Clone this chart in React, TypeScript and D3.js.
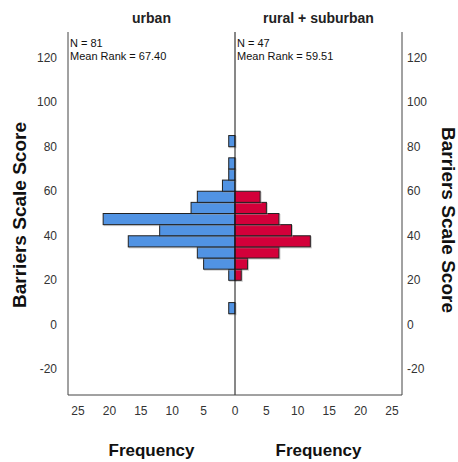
import React, { useEffect, useRef } from "react";
import * as d3 from "d3";

// bin lower edges (Barriers Scale Score), bins of width 5
const binStarts = [5, 10, 15, 20, 25, 30, 35, 40, 45, 50, 55, 60, 65, 70, 75, 80];
const urbanCounts = [1, 0, 0, 1, 5, 6, 17, 12, 21, 7, 6, 2, 1, 1, 0, 1];
const ruralCounts = [0, 0, 0, 1, 2, 7, 12, 9, 7, 5, 4, 0, 0, 0, 0, 0];
const yTicks = [-20, 0, 20, 40, 60, 80, 100, 120];
const xTicks = [0, 5, 10, 15, 20, 25];
const groups = [
  { name: "urban", n: 81, meanRank: "67.40" },
  { name: "rural + suburban", n: 47, meanRank: "59.51" },
];

export default function App() {
  const ref = useRef<SVGSVGElement>(null);

  useEffect(() => {
    const svg = d3.select(ref.current);
    svg.selectAll("*").remove();

    const left = 68;
    const mid = 235;
    const right = 402;
    const top = 32;
    const bottom = 395;
    const font = "'Liberation Sans', Arial, sans-serif";

    const y = d3.scaleLinear().domain([-31.5, 131.5]).range([bottom, top]);
    const xl = d3.scaleLinear().domain([0, 26.6]).range([mid, left]);
    const xr = d3.scaleLinear().domain([0, 26.6]).range([mid, right]);

    const g = svg.append("g");

    // bars
    const drawBars = (counts: number[], scale: d3.ScaleLinear<number, number>, color: string) => {
      binStarts.forEach((b, i) => {
        const c = counts[i];
        if (!c) return;
        const x0 = Math.min(scale(0), scale(c));
        const w = Math.abs(scale(c) - scale(0));
        const y0 = y(b + 5);
        const h = y(b) - y(b + 5);
        // soft shadow
        g.append("rect")
          .attr("x", x0 + 1)
          .attr("y", y0 + 1)
          .attr("width", w)
          .attr("height", h)
          .attr("fill", "none")
          .attr("stroke", "#999")
          .attr("stroke-opacity", 0.5)
          .attr("stroke-width", 1);
        g.append("rect")
          .attr("x", x0)
          .attr("y", y0)
          .attr("width", w)
          .attr("height", h)
          .attr("fill", color)
          .attr("stroke", "#222")
          .attr("stroke-width", 1);
      });
    };
    drawBars(urbanCounts, xl, "#5193e3");
    drawBars(ruralCounts, xr, "#d3003a");

    // frame
    const line = (x1: number, y1: number, x2: number, y2: number, c = "#444") =>
      g.append("line")
        .attr("x1", x1).attr("y1", y1).attr("x2", x2).attr("y2", y2)
        .attr("stroke", c).attr("stroke-width", 1);
    line(left, top, left, bottom);
    line(right, top, right, bottom);
    line(mid, top, mid, bottom, "#111");
    line(left, bottom, right, bottom);

    // y tick labels
    yTicks.forEach(t => {
      g.append("text").attr("x", 57).attr("y", y(t) + 4)
        .attr("text-anchor", "end").attr("font-size", 12).attr("font-family", font)
        .attr("fill", "#333").text(t);
      g.append("text").attr("x", 407).attr("y", y(t) + 4)
        .attr("text-anchor", "start").attr("font-size", 12).attr("font-family", font)
        .attr("fill", "#333").text(t);
    });

    // x tick labels
    xTicks.forEach(t => {
      g.append("text").attr("x", xl(t)).attr("y", 415)
        .attr("text-anchor", "middle").attr("font-size", 12).attr("font-family", font)
        .attr("fill", "#333").text(t);
      if (t > 0)
        g.append("text").attr("x", xr(t)).attr("y", 415)
          .attr("text-anchor", "middle").attr("font-size", 12).attr("font-family", font)
          .attr("fill", "#333").text(t);
    });

    // panel titles and annotations
    const centers = [(left + mid) / 2, (mid + right) / 2];
    const starts = [left + 2, mid + 2];
    groups.forEach((gr, i) => {
      g.append("text").attr("x", centers[i]).attr("y", 23)
        .attr("text-anchor", "middle").attr("font-size", 14).attr("font-weight", "bold")
        .attr("font-family", font).attr("fill", "#222").text(gr.name);
      g.append("text").attr("x", starts[i]).attr("y", 47)
        .attr("font-size", 11).attr("font-family", font).attr("fill", "#111")
        .text(`N = ${gr.n}`);
      g.append("text").attr("x", starts[i]).attr("y", 60)
        .attr("font-size", 11).attr("font-family", font).attr("fill", "#111")
        .text(`Mean Rank = ${gr.meanRank}`);
      g.append("text").attr("x", centers[i]).attr("y", 456)
        .attr("text-anchor", "middle").attr("font-size", 17).attr("font-weight", "bold")
        .attr("font-family", font).attr("fill", "#111").text("Frequency");
    });

    // axis titles
    g.append("text")
      .attr("transform", `translate(26,215) rotate(-90)`)
      .attr("text-anchor", "middle").attr("font-size", 19).attr("font-weight", "bold")
      .attr("font-family", font).attr("fill", "#111").text("Barriers Scale Score");
    g.append("text")
      .attr("transform", `translate(442,220) rotate(90)`)
      .attr("text-anchor", "middle").attr("font-size", 19).attr("font-weight", "bold")
      .attr("font-family", font).attr("fill", "#111").text("Barriers Scale Score");
  }, []);

  return (
    <svg
      ref={ref}
      width={458}
      height={462}
      style={{ position: "absolute", left: 0, top: 0, background: "#fff" }}
    />
  );
}
